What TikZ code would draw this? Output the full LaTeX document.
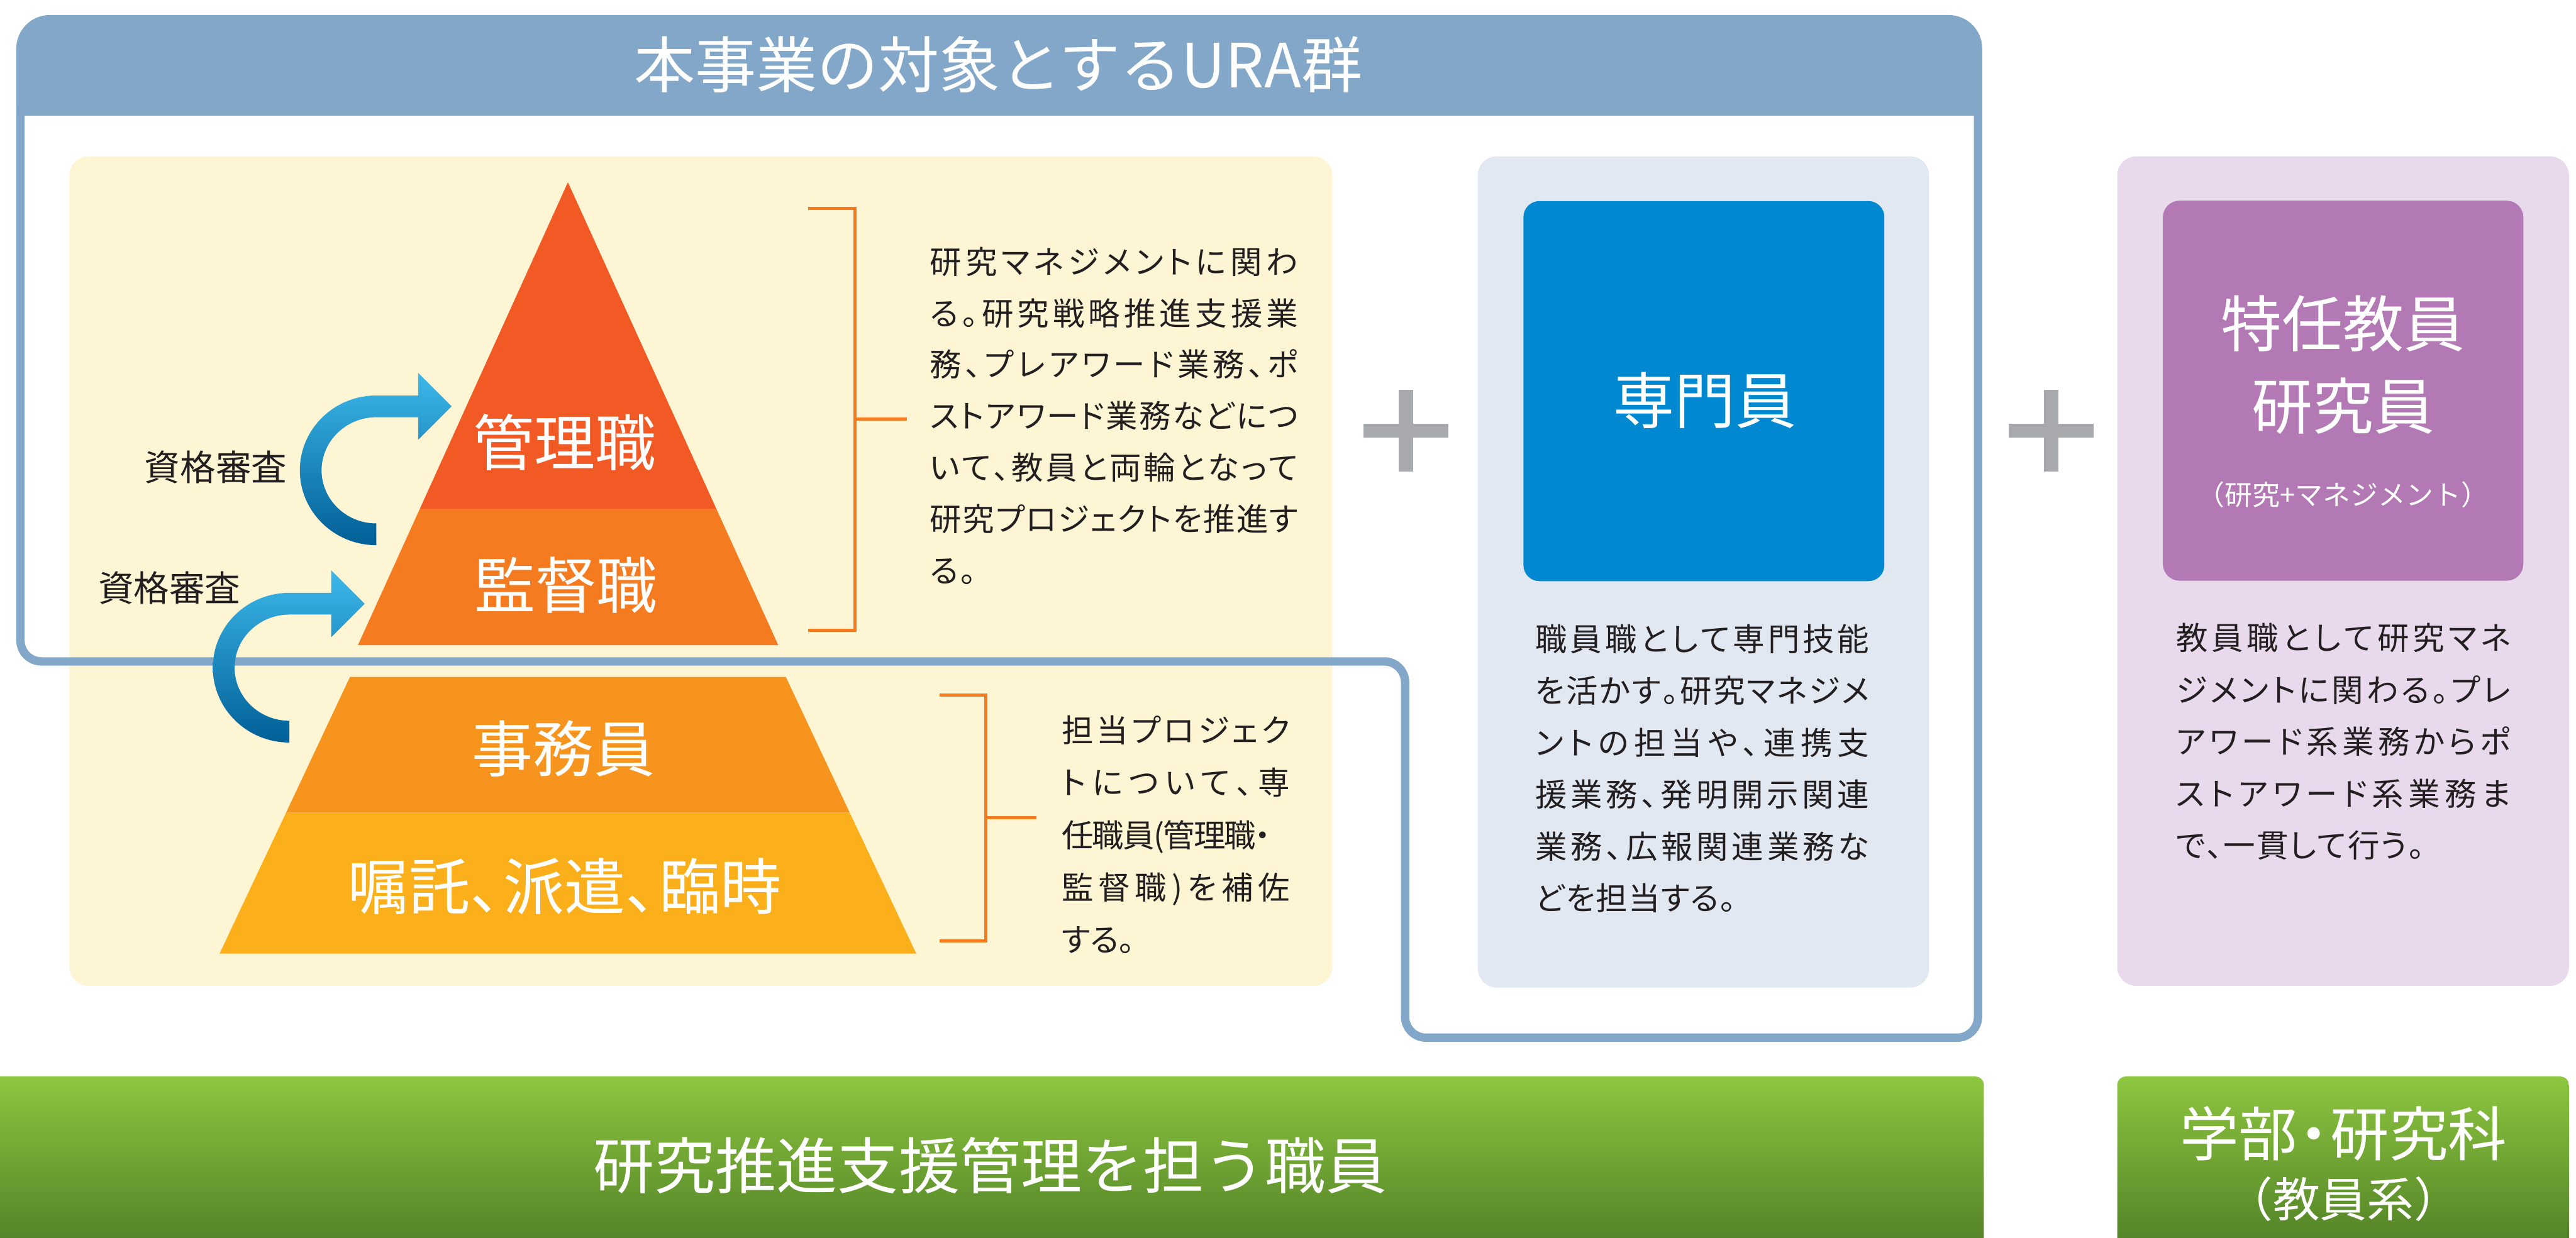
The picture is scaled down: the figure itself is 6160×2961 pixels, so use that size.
\documentclass[tikz,border=0pt]{standalone}
\usepackage{fontspec}
\setmainfont{Noto Sans CJK JP}
\newfontfamily\jpbody{Noto Sans CJK JP}[RawFeature=+palt]
\makeatletter
\def\sprd@aux#1#2\sprd@end{#1\ifx\relax#2\relax\else\hskip 0pt plus 1fil minus 0.1em\sprd@aux#2\sprd@end\fi}
\newcommand\spreadto[2]{\hbox to #1{\sprd@aux#2\sprd@end}}
\makeatother
\definecolor{hdr}{HTML}{82A7C9}
\definecolor{ylw}{HTML}{FEF5D4}
\definecolor{pyrA}{HTML}{F15A24}
\definecolor{pyrB}{HTML}{F47B20}
\definecolor{pyrC}{HTML}{F7941D}
\definecolor{pyrD}{HTML}{FAAF1B}
\definecolor{brk}{HTML}{F47B20}
\definecolor{txt}{HTML}{231F20}
\definecolor{bpanel}{HTML}{E1E8F2}
\definecolor{bbox}{HTML}{0089D1}
\definecolor{ppanel}{HTML}{E8DAEC}
\definecolor{pbox}{HTML}{B279B4}
\definecolor{plusg}{HTML}{A7A9AC}
\definecolor{gtop}{HTML}{8DC63F}
\definecolor{gbot}{HTML}{4F7E26}
\definecolor{atop}{HTML}{3DB8EA}
\definecolor{amid}{HTML}{0095C9}
\definecolor{abot}{HTML}{005F96}
\tikzset{
  bigwhite/.style={font=\fontsize{41.5}{50}\selectfont, text=white, inner sep=0pt, anchor=center},
  qual/.style={font=\fontsize{24.2}{30}\selectfont, text=txt, inner sep=0pt, anchor=center},
  body/.style={font=\jpbody\fontsize{21.6}{#1}\selectfont, text=txt, align=left, inner sep=0pt, anchor=north west},
  bracket/.style={draw=brk, line width=0.075cm},
  arrowshade/.style={top color=atop, middle color=amid, bottom color=abot},
}
\begin{document}
\begin{tikzpicture}[x=0.01cm,y=-0.01cm]
\useasboundingbox (0,0) rectangle (6160,2961);
% panels
\fill[ylw, rounded corners=0.45cm] (166,374) rectangle (3186,2358);
\fill[bpanel, rounded corners=0.45cm] (3534,374) rectangle (4613,2362);
\fill[ppanel, rounded corners=0.45cm] (5063,374) rectangle (6143,2358);
\fill[bbox, rounded corners=0.38cm] (3643,481) rectangle (4506,1390);
\fill[pbox, rounded corners=0.4cm] (5172,480) rectangle (6034,1389);
% frame of the URA group
\draw[hdr, line width=0.2cm, rounded corners=0.5cm] (49,250) -- (49,1582) -- (3360,1582) -- (3360,2482) -- (4730,2482) -- (4730,250);
\begin{scope}
  \clip (0,0) rectangle (6160,276);
  \fill[hdr, rounded corners=0.8cm] (39,36) rectangle (4740,500);
\end{scope}
% pyramid
\fill[pyrA] (1358,436) -- (1713,1217) -- (1004,1217) -- cycle;
\fill[pyrB] (1004,1217) -- (1713,1217) -- (1861,1543) -- (856,1543) -- cycle;
\fill[pyrC] (837,1619) -- (1879,1619) -- (2032,1944) -- (684,1944) -- cycle;
\fill[pyrD] (684,1944) -- (2032,1944) -- (2191,2281) -- (525,2281) -- cycle;
% curved arrows
\shade[arrowshade] (900,1304) arc[start angle=90, end angle=270, x radius=183, y radius=179]
  -- (1000,946) -- (1000,892) -- (1080,972) -- (1000,1052) -- (1000,998) -- (900,998)
  arc[start angle=270, end angle=90, x radius=131, y radius=127] -- cycle;
\shade[arrowshade] (692,1776) arc[start angle=90, end angle=270, x radius=183, y radius=179]
  -- (792,1418) -- (792,1364) -- (872,1444) -- (792,1524) -- (792,1470) -- (692,1470)
  arc[start angle=270, end angle=90, x radius=131, y radius=127] -- cycle;
% brackets
\draw[bracket] (1932,498) -- (2044,498) -- (2044,1507) -- (1932,1507);
\draw[bracket] (2044,1003) -- (2168,1003);
\draw[bracket] (2247,1663) -- (2357,1663) -- (2357,2250) -- (2247,2250);
\draw[bracket] (2357,1956) -- (2478,1956);
% plus signs
\fill[plusg] (3345,932) rectangle (3379,1128);
\fill[plusg] (3260,1013) rectangle (3464,1047);
\fill[plusg] (4888,932) rectangle (4922,1128);
\fill[plusg] (4803,1013) rectangle (5007,1047);
% green bars
\shade[top color=gtop, bottom color=gbot, rounded corners=0.2cm] (-100,2575) rectangle (4744,3000);
\shade[top color=gtop, bottom color=gbot, rounded corners=0.2cm] (5063,2575) rectangle (6143,3000);
% texts
\node[bigwhite] (title) at (2387,155) {本事業の対象とするURA群};
\node[bigwhite] (kanri) at (1351,1058) {管理職};
\node[bigwhite] (kantoku) at (1353,1399) {監督職};
\node[bigwhite] (jimu) at (1348,1790) {事務員};
\node[bigwhite] (shokutaku) at (1350,2121) {嘱託、\kern-0.45em派遣、\kern-0.45em臨時};
\node[qual] (qual1) at (516,1117) {資格審査};
\node[qual] (qual2) at (405,1406) {資格審査};
\node[body=35] (descA) at (2223,590) {\spreadto{8.8cm}{研究マネジメントに関わ}\\
  \spreadto{8.8cm}{る。研究戦略推進支援業}\\
  \spreadto{8.8cm}{務、プレアワード業務、ポ}\\
  \spreadto{8.8cm}{ストアワード業務などにつ}\\
  \spreadto{8.8cm}{いて、教員と両輪となって}\\
  \spreadto{8.8cm}{研究プロジェクトを推進す}\\
  \spreadto{1.1cm}{る。}};
\node[body=35.6] (descB) at (2538,1711) {\spreadto{5.46cm}{担当プロジェク}\\
  \spreadto{5.46cm}{トについて、専}\\
  \spreadto{5.0cm}{任職員(管理職・}\\
  \spreadto{5.46cm}{監督職)を補佐}\\
  \spreadto{1.75cm}{する。}};
\node[bigwhite] (senmon) at (4077,958) {専門員};
\node[body=35.3] (descC) at (3671,1492) {\spreadto{7.98cm}{職員職として専門技能}\\
  \spreadto{7.98cm}{を活かす。研究マネジメ}\\
  \spreadto{7.98cm}{ントの担当や、連携支}\\
  \spreadto{7.98cm}{援業務、発明開示関連}\\
  \spreadto{7.98cm}{業務、広報関連業務な}\\
  \spreadto{4.79cm}{どを担当する。}};
\node[bigwhite] (tokunin) at (5603,774) {特任教員};
\node[bigwhite] (kenkyuin) at (5603,971) {研究員};
\node[bigwhite, font=\fontsize{18.8}{24}\selectfont] (kenmane) at (5603,1183) {（研究+マネジメント）};
\node[body=35.3] (descD) at (5203,1490) {\spreadto{8.0cm}{教員職として研究マネ}\\
  \spreadto{8.0cm}{ジメントに関わる。プレ}\\
  \spreadto{8.0cm}{アワード系業務からポ}\\
  \spreadto{8.0cm}{ストアワード系業務ま}\\
  \spreadto{5.93cm}{で、一貫して行う。}};
\node[bigwhite] (staff) at (2368,2788) {研究推進支援管理を担う職員};
\node[bigwhite, font=\fontsize{40}{48}\selectfont] (gakubu) at (5604,2712) {学部\kern-0.22em・\kern-0.22em研究科};
\node[bigwhite, font=\fontsize{32}{40}\selectfont] (kyoin) at (5604,2868) {（教員系）};
\end{tikzpicture}
\end{document}
